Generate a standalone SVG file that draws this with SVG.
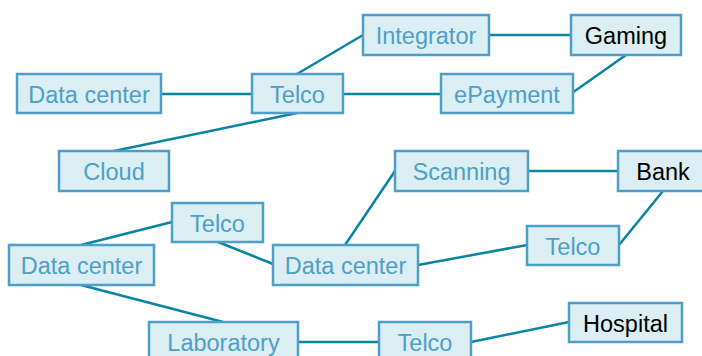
<svg xmlns="http://www.w3.org/2000/svg" width="702" height="356" viewBox="0 0 702 356">
<style>
.n rect{fill:#DAEEF3;stroke:#4E9FC8;stroke-width:2.5}
.n text{font-family:"Liberation Sans",Arial,sans-serif;font-size:23.5px;fill:#4E9FC8;text-anchor:middle}
.n.k text{fill:#000}
#edges line{stroke:#0A84A3;stroke-width:2.5}
</style>
<rect width="702" height="356" fill="#fff"/>
<g id="edges">
<line x1="161" y1="94" x2="252" y2="94"/>
<line x1="297" y1="74" x2="363" y2="35"/>
<line x1="343" y1="94" x2="441" y2="94"/>
<line x1="297" y1="113" x2="114" y2="151"/>
<line x1="489" y1="35" x2="571" y2="35"/>
<line x1="572" y1="93" x2="626" y2="55"/>
<line x1="528" y1="171" x2="618" y2="171"/>
<line x1="345" y1="245" x2="395" y2="171"/>
<line x1="418" y1="265" x2="527" y2="245"/>
<line x1="619" y1="245" x2="663" y2="191"/>
<line x1="81" y1="245" x2="172" y2="222"/>
<line x1="218" y1="242" x2="273" y2="264"/>
<line x1="81" y1="285" x2="223" y2="322"/>
<line x1="298" y1="342" x2="379" y2="342"/>
<line x1="471" y1="342" x2="569" y2="322"/>
</g>
<g id="dc1" class="n"><rect x="17" y="74" width="144" height="39"/><text x="89" y="102.5">Data center</text></g>
<g id="telco1" class="n"><rect x="252" y="74" width="91" height="39"/><text x="297.5" y="102.5">Telco</text></g>
<g id="cloud" class="n"><rect x="59" y="151" width="110" height="40"/><text x="114" y="179.5">Cloud</text></g>
<g id="integrator" class="n"><rect x="363" y="15" width="126" height="40"/><text x="426" y="43.5">Integrator</text></g>
<g id="gaming" class="n k"><rect x="571" y="15" width="110" height="40"/><text x="626" y="43.5">Gaming</text></g>
<g id="epayment" class="n"><rect x="441" y="74" width="132" height="39"/><text x="507" y="102.5">ePayment</text></g>
<g id="scanning" class="n"><rect x="395" y="151" width="133" height="40"/><text x="461.5" y="179.5">Scanning</text></g>
<g id="bank" class="n k"><rect x="618" y="151" width="86" height="40"/><text x="663" y="179.5">Bank</text></g>
<g id="telco2" class="n"><rect x="172" y="203" width="91" height="39"/><text x="217.5" y="231.5">Telco</text></g>
<g id="dc2" class="n"><rect x="9" y="245" width="145" height="40"/><text x="81.5" y="273.5">Data center</text></g>
<g id="dc3" class="n"><rect x="273" y="245" width="145" height="40"/><text x="345.5" y="273.5">Data center</text></g>
<g id="telco3" class="n"><rect x="527" y="226" width="92" height="39"/><text x="573" y="254.5">Telco</text></g>
<g id="hospital" class="n k"><rect x="569" y="303" width="113" height="39"/><text x="625.5" y="331.5">Hospital</text></g>
<g id="lab" class="n"><rect x="149" y="322" width="149" height="40"/><text x="223.5" y="350.5">Laboratory</text></g>
<g id="telco4" class="n"><rect x="379" y="322" width="92" height="40"/><text x="425" y="350.5">Telco</text></g>
</svg>
